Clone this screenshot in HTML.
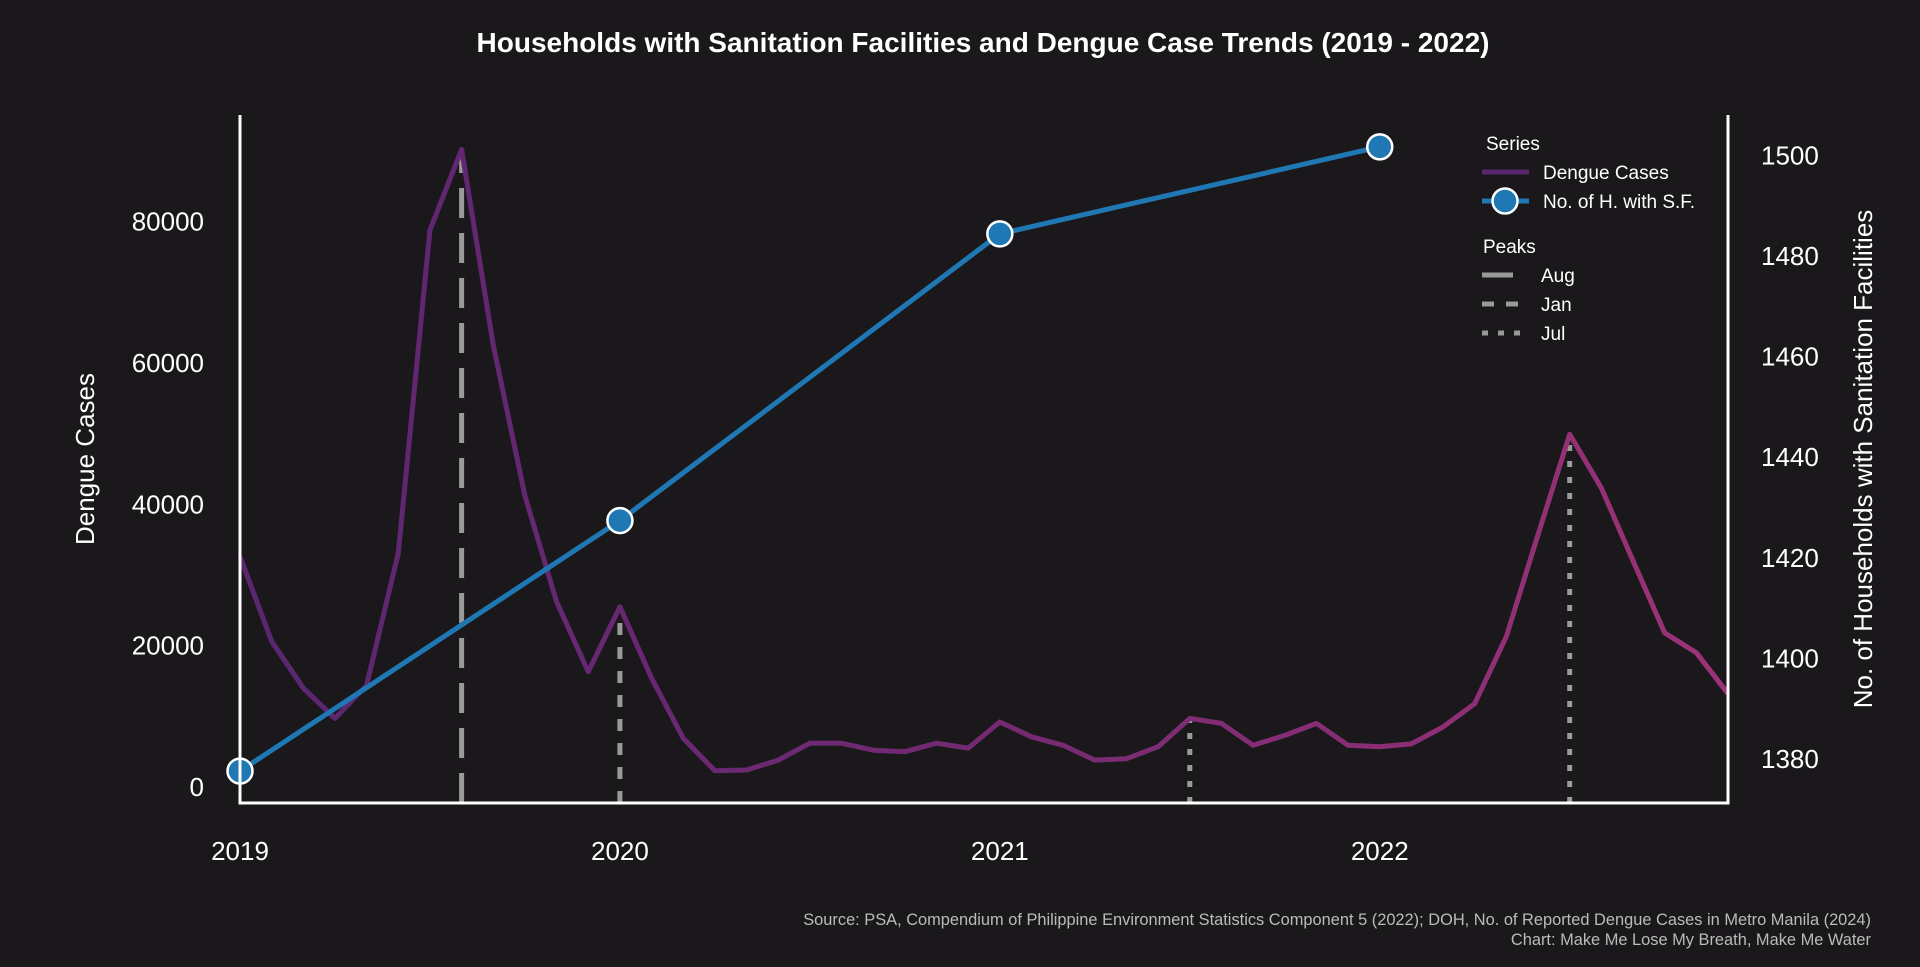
<!DOCTYPE html>
<html><head><meta charset="utf-8"><style>
html,body{margin:0;padding:0;background:#1a181b;}
svg{display:block;font-family:"Liberation Sans",sans-serif;}
</style></head><body>
<svg id="chart" width="1920" height="967" viewBox="0 0 1920 967">
<defs>
<linearGradient id="dg" x1="240" y1="0" x2="1728" y2="0" gradientUnits="userSpaceOnUse">
<stop offset="0" stop-color="#5a2670"/><stop offset="0.5" stop-color="#732a72"/><stop offset="1" stop-color="#9c3277"/>
</linearGradient>
</defs>
<rect width="1920" height="967" fill="#1a181b"/>
<text x="983" y="52" text-anchor="middle" fill="#fff" font-size="28" font-weight="bold">Households with Sanitation Facilities and Dengue Case Trends (2019 - 2022)</text>
<g id="peaks"></g>
<g id="dengue"></g>
<g id="house"></g>
<g id="axes"></g>
<text transform="translate(94,459) rotate(-90)" text-anchor="middle" fill="#fff" font-size="26">Dengue Cases</text>
<text transform="translate(1872,459) rotate(-90)" text-anchor="middle" fill="#fff" font-size="26">No. of Households with Sanitation Facilities</text>
<g font-size="19" fill="#fff">
<text x="1486" y="150" fill="#fff">Series</text>
<line x1="1482" y1="172" x2="1529" y2="172" stroke="#5a2670" stroke-width="5"/>
<text x="1543" y="179" fill="#fff">Dengue Cases</text>
<line x1="1482" y1="201" x2="1529" y2="201" stroke="#1f78b4" stroke-width="5"/>
<circle cx="1505" cy="201" r="12.5" fill="#1f78b4" stroke="#fff" stroke-width="2.5"/>
<text x="1543" y="208" fill="#fff">No. of H. with S.F.</text>
<text x="1483" y="253" fill="#fff">Peaks</text>
<line x1="1482" y1="275" x2="1513" y2="275" stroke="#999" stroke-width="5"/>
<text x="1541" y="282" fill="#fff">Aug</text>
<line x1="1482" y1="304" x2="1520" y2="304" stroke="#999" stroke-width="5" stroke-dasharray="12,12"/>
<text x="1541" y="311" fill="#fff">Jan</text>
<line x1="1482" y1="333" x2="1522" y2="333" stroke="#999" stroke-width="5" stroke-dasharray="6,10"/>
<text x="1541" y="340" fill="#fff">Jul</text>
</g>
<text x="1871" y="925" text-anchor="end" fill="#bbb" font-size="16.4">Source: PSA, Compendium of Philippine Environment Statistics Component 5 (2022); DOH, No. of Reported Dengue Cases in Metro Manila (2024)</text>
<text x="1871" y="945" text-anchor="end" fill="#bbb" font-size="16.4">Chart: Make Me Lose My Breath, Make Me Water</text>
</svg>
<script>
const dengueCases = [32600,20600,14000,9700,14400,33100,78800,90200,62500,41200,26200,16300,
25500,15400,6900,2300,2400,3800,6200,6200,5200,5000,6200,5500,
9200,7100,5900,3800,4000,5700,9700,9000,5900,7300,9000,5900,
5700,6100,8500,11800,21300,35700,49900,42300,32000,21800,19000,13200];
const householdYears = [2019,2020,2021,2022];
const householdValues = [1377.6,1427.4,1484.4,1501.7];
const yearTicks = [2019,2020,2021,2022];
const leftTicks = [0,20000,40000,60000,80000];
const rightTicks = [1380,1400,1420,1440,1460,1480,1500];
const peakMonths = [7,12,30,42];
const peakStyles = ["30,15","12,12","6,10","6,10"];

const NS="http://www.w3.org/2000/svg";
const X0=240,X1=1728,YB=803,YT=115;
const xM=m=>X0+(X1-X0)*m/47;
const xYear=y=>xM((y-2019)*12);
const yL=v=>787-v*(565.5/80000);
const yR=v=>759-(v-1380)*5.03;
function mk(tag,attrs,parent){const e=document.createElementNS(NS,tag);for(const k in attrs)e.setAttribute(k,attrs[k]);parent.appendChild(e);return e;}

const peaks=document.getElementById('peaks');
peakMonths.forEach((m,i)=>{
  const l=mk('line',{x1:xM(m),x2:xM(m),y1:YB,y2:yL(dengueCases[m]),stroke:'#9a9a9a','stroke-width':5,'stroke-dasharray':peakStyles[i]},peaks);
  
  
});

const dg=document.getElementById('dengue');
const dp=mk('polyline',{points:dengueCases.map((v,i)=>xM(i)+','+yL(v)).join(' '),fill:'none',stroke:'url(#dg)','stroke-width':5,'stroke-linejoin':'round'},dg);



const hg=document.getElementById('house');
const hp=mk('polyline',{points:householdValues.map((v,i)=>xYear(householdYears[i])+','+yR(v)).join(' '),fill:'none',stroke:'#1f78b4','stroke-width':5},hg);


householdValues.forEach((v,i)=>{
  const c=mk('circle',{cx:xYear(householdYears[i]),cy:yR(v),r:12.5,fill:'#1f78b4',stroke:'#fff','stroke-width':2.5},hg);
  
  
});

const ax=document.getElementById('axes');
let a=mk('line',{x1:X0,x2:X0,y1:YT,y2:YB+1.5,stroke:'#fff','stroke-width':3},ax);


a=mk('line',{x1:X1,x2:X1,y1:YT,y2:YB+1.5,stroke:'#fff','stroke-width':3},ax);


a=mk('line',{x1:X0,x2:X1+1.5,y1:YB,y2:YB,stroke:'#fff','stroke-width':3},ax);


leftTicks.forEach(v=>{
  const t=mk('text',{x:204,y:yL(v)+9,'text-anchor':'end',fill:'#fff','font-size':26},ax);
  t.textContent=v;
  
  
});
rightTicks.forEach(v=>{
  const t=mk('text',{x:1761,y:yR(v)+9,fill:'#fff','font-size':26},ax);
  t.textContent=v;
  
  
});
yearTicks.forEach(y=>{
  const t=mk('text',{x:xYear(y),y:860,'text-anchor':'middle',fill:'#fff','font-size':26},ax);
  t.textContent=y;
  
  
});
</script>
</body></html>
